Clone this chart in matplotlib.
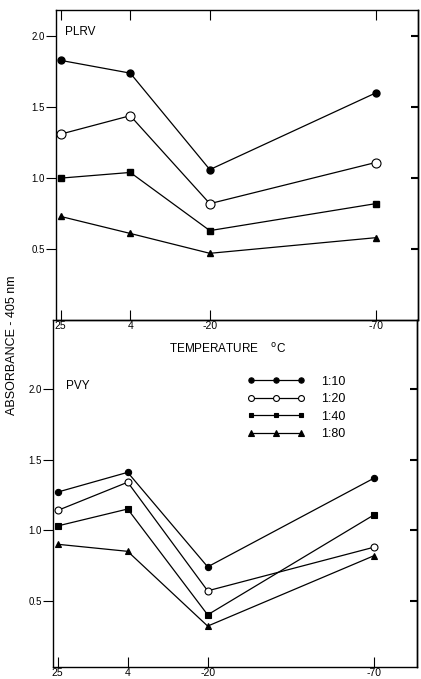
import matplotlib.pyplot as plt

# temperatures (deg C) and dilutions
temps = [25, 4, -20, -70]
temp_labels = ['25', '4', '-20', '-70']
dilutions = ['1:10', '1:20', '1:40', '1:80']

# absorbance at 405 nm, PLRV
plrv_10 = [1.83, 1.74, 1.06, 1.60]
plrv_20 = [1.31, 1.44, 0.82, 1.11]
plrv_40 = [1.00, 1.04, 0.63, 0.82]
plrv_80 = [0.73, 0.61, 0.47, 0.58]

# absorbance at 405 nm, PVY
pvy_10 = [1.27, 1.41, 0.74, 1.37]
pvy_20 = [1.14, 1.34, 0.57, 0.88]
pvy_40 = [1.03, 1.15, 0.40, 1.11]
pvy_80 = [0.90, 0.85, 0.32, 0.82]

plt.rcParams['font.family'] = ['Liberation Sans', 'DejaVu Sans']

fig = plt.figure(figsize=(4.21, 6.79), dpi=100)

styles = [dict(marker='o', mfc='black', ms=4.5),
          dict(marker='o', mfc='white', ms=5),
          dict(marker='s', mfc='black', ms=4),
          dict(marker='^', mfc='black', ms=4.5)]
yt = [0.5, 1.0, 1.5, 2.0]


def setup(ax, ylim):
    ax.set_xlim(26.4, -82.8)
    ax.set_ylim(*ylim)
    ax.set_yticks(yt)
    ax.set_yticklabels(['0.5', '1.0', '1.5', '2.0'], fontsize=7)
    ax.set_xticks(temps)
    ax.set_xticklabels(temp_labels, fontsize=7.5)
    ax.tick_params(axis='y', direction='out', length=7, pad=1, width=0.8)
    ax.tick_params(axis='x', direction='in', length=7, pad=0.5, width=0.8)
    ax.patch.set_visible(False)
    for s in ax.spines.values():
        s.set_linewidth(1.0)
    sec = ax.secondary_yaxis('right')
    sec.set_yticks(yt)
    sec.set_yticklabels([])
    sec.tick_params(direction='in', length=5, width=1.5)
    sec.spines['right'].set_linewidth(1.0)


# top panel: PLRV
ax1 = fig.add_axes([56 / 421, 1 - 320 / 679, 362 / 421, 310 / 679])
setup(ax1, (0, 2.185))
ax1.tick_params(axis='x', top=True)
ax1.plot(temps, plrv_10, color='black', lw=0.9, marker='o', mfc='black', mec='black', ms=5)
ax1.plot(temps, plrv_20, color='black', lw=0.9, marker='o', mfc='white', mec='black', mew=0.8, ms=6.5)
ax1.plot(temps, plrv_40, color='black', lw=0.9, marker='s', mfc='black', mec='black', ms=4.5)
ax1.plot(temps, plrv_80, color='black', lw=0.9, marker='^', mfc='black', mec='black', ms=5)
ax1.text(0.025, 0.92, 'PLRV', transform=ax1.transAxes, fontsize=8.5)

# bottom panel: PVY
ax2 = fig.add_axes([53 / 421, 1 - 667 / 679, 364 / 421, 347 / 679])
setup(ax2, (0.03, 2.49))
for vals, st, lab in zip([pvy_10, pvy_20, pvy_40, pvy_80], styles, dilutions):
    ax2.plot(temps, vals, color='black', lw=0.9, mec='black', mew=0.8, label=lab, **st)
ax2.text(0.035, 0.80, 'PVY', transform=ax2.transAxes, fontsize=8.5)
ax2.text(0.48, 0.905, 'TEMPERATURE    $^{\\rm o}$C', transform=ax2.transAxes,
         fontsize=8.5, ha='center')
ax2.legend(loc='upper left', bbox_to_anchor=(0.535, 0.84), frameon=False, numpoints=3,
           handlelength=4.6, handletextpad=1.3, labelspacing=0.45, fontsize=9,
           borderpad=0, borderaxespad=0, markerscale=0.85)

fig.text(12 / 421, 1 - 345 / 679, 'ABSORBANCE - 405 nm', rotation=90,
         va='center', ha='center', fontsize=9)

fig.savefig('out.png', dpi=100)
